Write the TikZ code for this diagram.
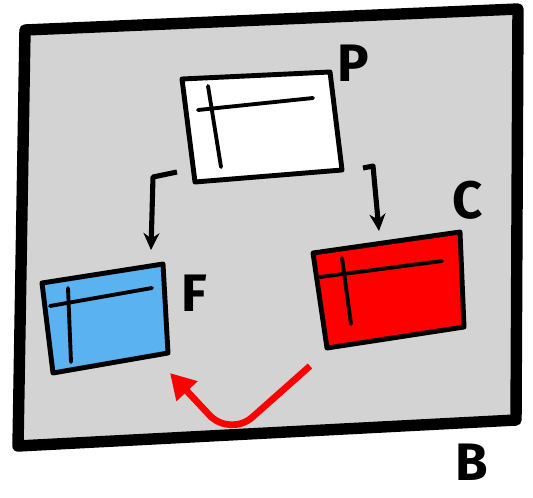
\documentclass[tikz,border=0pt]{standalone}
\usepackage{fontspec}
\setsansfont{Fira Sans}
\usetikzlibrary{arrows.meta, positioning}
\definecolor{boardgray}{HTML}{D3D3D3}
\definecolor{frameblue}{HTML}{5AB2F0}
\definecolor{framered}{HTML}{FF0000}

\begin{document}
\begin{tikzpicture}[
    x=0.02cm, y=-0.02cm,
    board/.style = {draw=black, fill=boardgray, line width=6.5pt, line join=round, line cap=round},
    winbox/.style = {draw=black, line width=2.8pt, line join=round},
    winline/.style = {draw=black, line width=2.2pt, line cap=round},
    letter/.style = {font=\sffamily\bfseries\fontsize{30}{30}\selectfont, inner sep=0pt},
    arrow/.style = {draw=black, line width=2.9pt, line join=round, -{Stealth[length=0.34cm, width=0.32cm]}},
    move/.style = {draw=framered, line width=3.8pt, rounded corners=0.6cm, -{Triangle[length=0.5cm, width=0.55cm]}}
]
\useasboundingbox (0,0) rectangle (533,497);

% board
\draw [board] (25,30) -- (518,9) -- (516,420) -- (18,446) -- cycle;
\node (lblB) [letter] at (472,462) {B};

% parent window
\coordinate (P1) at (182,79);
\coordinate (P2) at (330,72);
\coordinate (P3) at (342,170);
\coordinate (P4) at (195,182);
\draw [winbox, fill=white] (P1) -- (P2) -- (P3) -- (P4) -- cycle;
\draw [winline] (198,110) -- (313,98);
\draw [winline] (208,86) -- (221,167);
\node (lblP) [letter] at (353,63) {P};

% first child
\coordinate (F1) at (42,283);
\coordinate (F2) at (163,264);
\coordinate (F3) at (168,353);
\coordinate (F4) at (53,373);
\draw [winbox, fill=frameblue] (F1) -- (F2) -- (F3) -- (F4) -- cycle;
\draw [winline] (50,306) -- (152,288);
\draw [winline] (68,288) -- (71,362);
\node (lblF) [letter] at (194,293) {F};

% second child
\coordinate (C1) at (313,253);
\coordinate (C2) at (460,232);
\coordinate (C3) at (464,327);
\coordinate (C4) at (327,348);
\draw [winbox, fill=framered] (C1) -- (C2) -- (C3) -- (C4) -- cycle;
\draw [winline] (320,277) -- (442,261);
\draw [winline] (342,258) -- (351,324);
\node (lblC) [letter] at (468,200) {C};

% connectors
\coordinate (PoutF) at (177,172);
\coordinate (FinP) at (151,250);
\coordinate (PoutC) at (363,168);
\coordinate (CinP) at (379,231);
\coordinate (CoutF) at (310,366);
\coordinate (FinC) at (170,373);
\draw [arrow] (PoutF) -- (153,177) -- (FinP);
\draw [arrow] (PoutC) -- (373,166) -- (CinP);
\draw [move] (CoutF) -- (230,437) -- (FinC);

\end{tikzpicture}
\end{document}
